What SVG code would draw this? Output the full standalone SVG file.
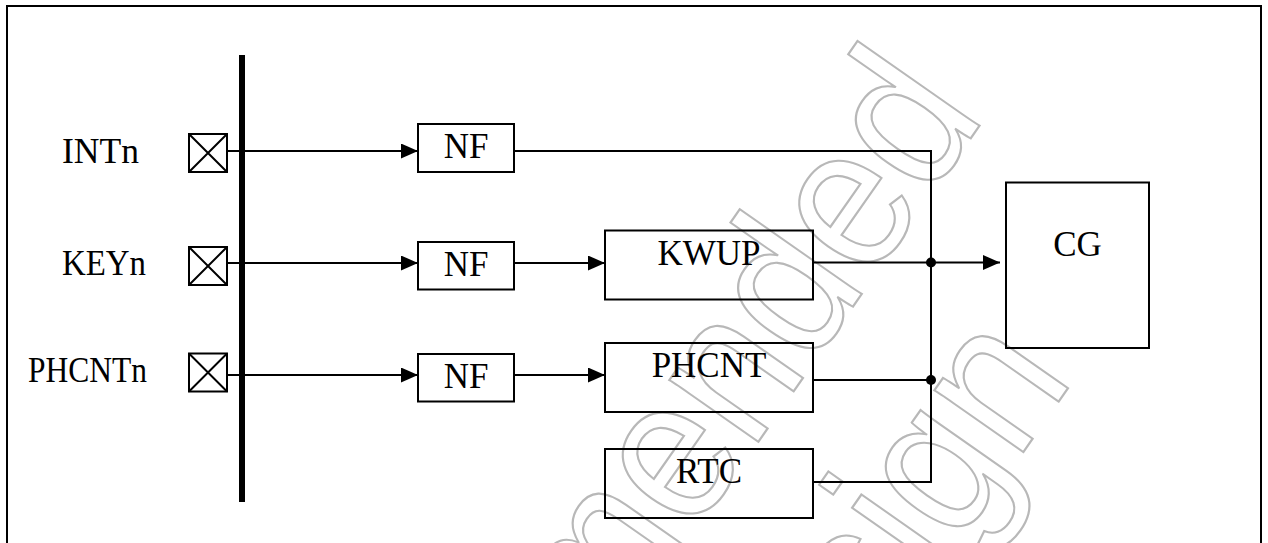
<svg xmlns="http://www.w3.org/2000/svg" width="1268" height="543" viewBox="0 0 1268 543">
<style>
.box{fill:none;stroke:#000;stroke-width:2}
.ln{fill:none;stroke:#000;stroke-width:2}
.t{font-family:"Liberation Serif","Times New Roman",serif;font-size:35px;fill:#000}
.c{text-anchor:middle}
.wm{font-family:"Liberation Sans",Arial,sans-serif;font-size:205px;fill:none;stroke:#b8b8b8;stroke-width:2.2;text-anchor:middle}
</style>
<defs>
<marker id="arr" viewBox="0 0 17 15" refX="17" refY="7.5" markerWidth="17" markerHeight="15" markerUnits="userSpaceOnUse" orient="auto">
<path d="M0,0 L17,7.5 L0,15 Z" fill="#000"/>
</marker>
</defs>
<rect width="1268" height="543" fill="#fff"/>
<g id="watermark" transform="translate(530.5,767) rotate(-55) scale(0.9,1)">
<text class="wm" x="0" y="0">Not Recommended</text>
<text class="wm" x="0" y="223">for New Design</text>
</g>
<rect id="frame" x="7" y="6" width="1254" height="600" class="box"/>
<g id="bus"><line x1="242" y1="55" x2="242" y2="502" stroke="#000" stroke-width="6"/></g>
<g id="pin-int">
<text class="t" x="62" y="163" textLength="77" lengthAdjust="spacingAndGlyphs">INTn</text>
<rect class="box" x="189" y="134" width="38" height="38"/>
<path class="ln" d="M189,134 L227,172 M227,134 L189,172" stroke-width="1.5"/>
</g>
<g id="pin-key">
<text class="t" x="62" y="275" textLength="84" lengthAdjust="spacingAndGlyphs">KEYn</text>
<rect class="box" x="189" y="247" width="38" height="38"/>
<path class="ln" d="M189,247 L227,285 M227,247 L189,285" stroke-width="1.5"/>
</g>
<g id="pin-phcnt">
<text class="t" x="28" y="382" textLength="119" lengthAdjust="spacingAndGlyphs">PHCNTn</text>
<rect class="box" x="189" y="353.5" width="38" height="38"/>
<path class="ln" d="M189,353.5 L227,391.5 M227,353.5 L189,391.5" stroke-width="1.5"/>
</g>
<g id="nf1"><rect class="box" x="418" y="124" width="96" height="48"/><text class="t c" x="466" y="158">NF</text></g>
<g id="nf2"><rect class="box" x="418" y="242" width="96" height="47.5"/><text class="t c" x="466" y="276">NF</text></g>
<g id="nf3"><rect class="box" x="418" y="354" width="96" height="47.5"/><text class="t c" x="466" y="388">NF</text></g>
<g id="kwup"><rect class="box" x="605" y="230.5" width="208" height="69"/><text class="t c" x="709" y="265">KWUP</text></g>
<g id="phcnt"><rect class="box" x="605" y="343" width="208" height="69"/><text class="t c" x="709" y="377">PHCNT</text></g>
<g id="rtc"><rect class="box" x="605" y="449" width="208" height="69"/><text class="t c" x="709" y="483">RTC</text></g>
<g id="cg"><rect class="box" x="1006" y="182.5" width="143" height="165.5"/><text class="t c" x="1077.5" y="256">CG</text></g>
<g id="connectors">
<line class="ln" x1="227" y1="151" x2="418" y2="151" marker-end="url(#arr)"/>
<line class="ln" x1="227" y1="263" x2="418" y2="263" marker-end="url(#arr)"/>
<line class="ln" x1="227" y1="375" x2="418" y2="375" marker-end="url(#arr)"/>
<path class="ln" d="M514,151 H931 V482 H813"/>
<line class="ln" x1="514" y1="263" x2="605" y2="263" marker-end="url(#arr)"/>
<line class="ln" x1="514" y1="375" x2="605" y2="375" marker-end="url(#arr)"/>
<line class="ln" x1="813" y1="262.5" x2="1000" y2="262.5" marker-end="url(#arr)"/>
<line class="ln" x1="813" y1="380" x2="931" y2="380"/>
<circle cx="931" cy="262.5" r="5"/>
<circle cx="931" cy="380" r="5"/>
</g>
</svg>
